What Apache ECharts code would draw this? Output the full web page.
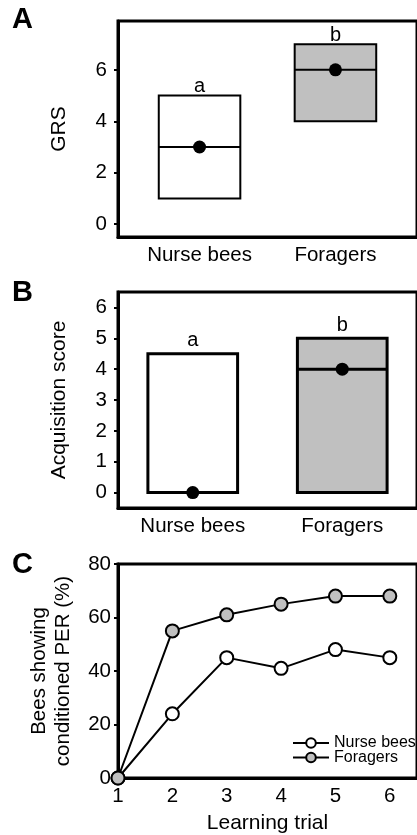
<!DOCTYPE html>
<html><head><meta charset="utf-8">
<script src="https://cdn.jsdelivr.net/npm/echarts@6/dist/echarts.min.js"></script>
<style>html,body{margin:0;padding:0;background:#fff}#c{width:417px;height:835px}</style>
</head><body><div id="c"></div>
<script>
// ---- data ----
const groups = ['Nurse bees', 'Foragers'];
const groupPos = [1, 2];
const sigLetters = ['a', 'b'];
const grsLow = [1, 4];
const grsMedian = [3, 6];
const grsHigh = [5, 7];
const grsTicks = [0, 2, 4, 6];
const acqLow = [0, 0];
const acqMedian = [0, 4];
const acqHigh = [4.5, 5];
const acqTicks = [0, 1, 2, 3, 4, 5, 6];
const trials = [1, 2, 3, 4, 5, 6];
const nursePER = [0, 24, 45, 41, 48, 45];
const foragerPER = [0, 55, 61, 65, 68, 68];

const FONT = "'Liberation Sans', Arial, sans-serif";
const fills = ['#ffffff', '#c0c0c0'];

function boxData(low, med, high) {
  return groupPos.map((p, i) => [p, low[i], med[i], high[i], i]);
}
function boxRender(lw, textGap) {
  return function (params, api) {
    const x = api.value(0), lo = api.value(1), md = api.value(2), hi = api.value(3), i = api.value(4);
    const w = api.size([0.6, 0])[0];
    const pLo = api.coord([x, lo]), pMd = api.coord([x, md]), pHi = api.coord([x, hi]);
    const left = pLo[0] - w / 2;
    return {
      type: 'group',
      children: [
        { type: 'rect', shape: { x: left, y: pHi[1], width: w, height: pLo[1] - pHi[1] },
          style: { fill: fills[i], stroke: '#000', lineWidth: lw } },
        { type: 'line', shape: { x1: left, y1: pMd[1], x2: left + w, y2: pMd[1] },
          style: { stroke: '#000', lineWidth: lw } },
        { type: 'circle', shape: { cx: pMd[0], cy: pMd[1], r: 6.5 }, style: { fill: '#000' } },
        { type: 'text', x: pHi[0], y: pHi[1] - textGap,
          style: { text: sigLetters[i], fill: '#000', font: '20px ' + FONT, textAlign: 'center', textVerticalAlign: 'bottom' } }
      ]
    };
  };
}

const chart = echarts.init(document.getElementById('c'), null, { renderer: 'canvas' });
const axisLabelStyle = { color: '#000', fontSize: 20.5, fontFamily: FONT };
const nameStyle = { color: '#000', fontSize: 21, fontFamily: FONT };
const option = {
  animation: false,
  backgroundColor: '#fff',
  textStyle: { fontFamily: FONT },
  graphic: [
    { type: 'text', left: 12, top: 5, style: { text: 'A', font: 'bold 29px ' + FONT, fill: '#000' } },
    { type: 'text', left: 12, top: 278, style: { text: 'B', font: 'bold 29px ' + FONT, fill: '#000' } },
    { type: 'text', left: 12, top: 550, style: { text: 'C', font: 'bold 29px ' + FONT, fill: '#000' } }
  ],
  grid: [
    { left: 118, top: 21, width: 304, height: 216, show: true, borderColor: '#000', borderWidth: 3 },
    { left: 118, top: 292, width: 304, height: 216, show: true, borderColor: '#000', borderWidth: 3 },
    { left: 118, top: 564, width: 302.5, height: 215, show: true, borderColor: '#000', borderWidth: 3 }
  ],
  xAxis: [
    { type: 'value', gridIndex: 0, min: 0.4, max: 2.6,
      axisLine: { show: true, onZero: false, lineStyle: { color: '#000', width: 3 } },
      axisTick: { show: false }, splitLine: { show: false },
      axisLabel: Object.assign({ margin: 8, customValues: groupPos, formatter: v => groups[Math.round(v) - 1] }, axisLabelStyle) },
    { type: 'value', gridIndex: 1, min: 0.5, max: 2.5,
      axisLine: { show: true, onZero: false, lineStyle: { color: '#000', width: 3 } },
      axisTick: { show: false }, splitLine: { show: false },
      axisLabel: Object.assign({ margin: 8, customValues: groupPos, formatter: v => groups[Math.round(v) - 1] }, axisLabelStyle) },
    { type: 'value', gridIndex: 2, min: 1, max: 6.5,
      name: 'Learning trial', nameLocation: 'middle', nameGap: 35,
      nameTextStyle: nameStyle,
      axisLine: { show: true, onZero: false, lineStyle: { color: '#000', width: 3 } },
      axisTick: { show: false }, splitLine: { show: false },
      axisLabel: Object.assign({ margin: 8, customValues: trials }, axisLabelStyle) }
  ],
  yAxis: [
    { type: 'value', gridIndex: 0, min: -0.5, max: 7.9,
      name: 'GRS', nameLocation: 'middle', nameGap: 48,
      nameTextStyle: nameStyle,
      axisLine: { show: true, onZero: false, lineStyle: { color: '#000', width: 3 } },
      axisTick: { show: true, length: 4, customValues: grsTicks, lineStyle: { color: '#000', width: 2 } },
      splitLine: { show: false },
      axisLabel: Object.assign({ margin: 11, customValues: grsTicks }, axisLabelStyle) },
    { type: 'value', gridIndex: 1, min: -0.5, max: 6.5,
      name: 'Acquisition score', nameLocation: 'middle', nameGap: 48,
      nameTextStyle: nameStyle,
      axisLine: { show: true, onZero: false, lineStyle: { color: '#000', width: 3 } },
      axisTick: { show: true, length: 4, customValues: acqTicks, lineStyle: { color: '#000', width: 2 } },
      splitLine: { show: false },
      axisLabel: Object.assign({ margin: 11, customValues: acqTicks }, axisLabelStyle) },
    { type: 'value', gridIndex: 2, min: 0, max: 80, interval: 20,
      name: 'Bees showing\nconditioned PER (%)', nameLocation: 'middle', nameGap: 43,
      nameTextStyle: Object.assign({ lineHeight: 24 }, nameStyle, { fontSize: 20.5 }),
      axisLine: { show: true, onZero: false, lineStyle: { color: '#000', width: 3 } },
      axisTick: { show: true, length: 4, lineStyle: { color: '#000', width: 2 } },
      splitLine: { show: false },
      axisLabel: Object.assign({ margin: 7 }, axisLabelStyle) }
  ],
  legend: {
    orient: 'vertical', left: 292, top: 735, padding: 0, itemWidth: 36, itemHeight: 12, itemGap: -1.5,
    textStyle: { color: '#000', fontSize: 16, fontFamily: FONT },
    data: ['Nurse bees', 'Foragers']
  },
  series: [
    { type: 'custom', xAxisIndex: 0, yAxisIndex: 0, renderItem: boxRender(2, -1), data: boxData(grsLow, grsMedian, grsHigh), clip: false },
    { type: 'custom', xAxisIndex: 1, yAxisIndex: 1, renderItem: boxRender(3, 3), data: boxData(acqLow, acqMedian, acqHigh), clip: false },
    { type: 'line', name: 'Nurse bees', xAxisIndex: 2, yAxisIndex: 2, clip: false,
      data: trials.map((t, i) => [t, nursePER[i]]),
      symbol: 'circle', symbolSize: 13,
      lineStyle: { color: '#000', width: 2 },
      itemStyle: { color: '#ffffff', borderColor: '#000', borderWidth: 2 } },
    { type: 'line', name: 'Foragers', xAxisIndex: 2, yAxisIndex: 2, clip: false,
      data: trials.map((t, i) => [t, foragerPER[i]]),
      symbol: 'circle', symbolSize: 13,
      lineStyle: { color: '#000', width: 2 },
      itemStyle: { color: '#c0c0c0', borderColor: '#000', borderWidth: 2 } }
  ]
};
chart.setOption(option);
</script></body></html>
